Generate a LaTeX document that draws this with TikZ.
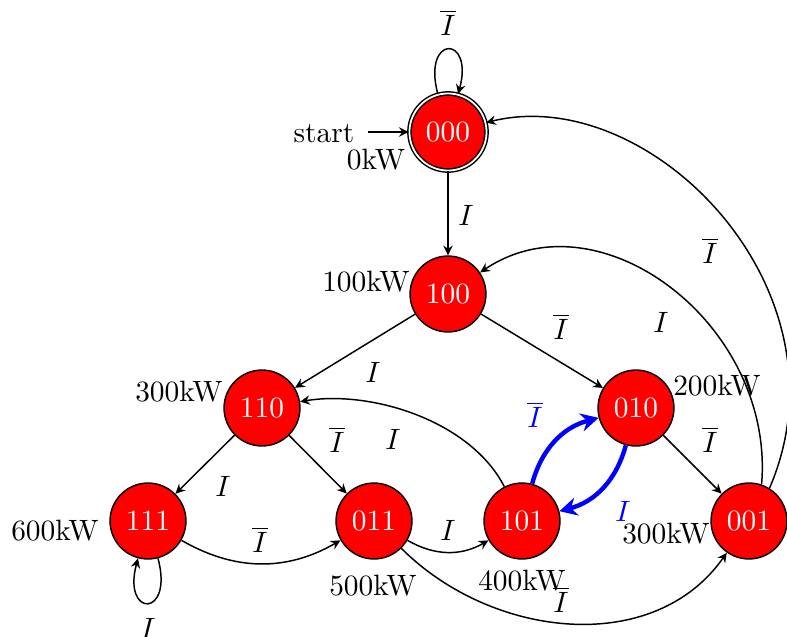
\documentclass[tikz,border=0pt]{standalone}
\usetikzlibrary{arrows.meta}
\begin{document}
\begin{tikzpicture}[x=0.34pt,y=0.34pt,
  st/.style={circle,draw=black,line width=0.5pt,fill=red,text=white,minimum size=25.8pt,inner sep=0pt},
  acc/.style={st,double,double distance=0.6pt,minimum size=26.2pt},
  lbl/.style={inner sep=0pt},
  bluelbl/.style={lbl,text=blue},
  edge/.style={-{Stealth[length=3.3pt,width=3.2pt,inset=1.1pt]},line width=0.5pt},
  hot/.style={-{Stealth[length=6pt,width=6.2pt,inset=2pt]},line width=1.5pt,blue}]
\useasboundingbox (0,0) rectangle (787,-637);

% states
\node[acc] (s000) at (448,-132) {000};
\node[st] (s100) at (448,-294) {100};
\node[st] (s110) at (262,-408) {110};
\node[st] (s010) at (636,-408) {010};
\node[st] (s111) at (148,-521) {111};
\node[st] (s011) at (374,-521) {011};
\node[st] (s101) at (522,-521) {101};
\node[st] (s001) at (749,-521) {001};

% power labels
\node[lbl] (k000) at (376,-160) {0kW};
\node[lbl] (k100) at (366,-282) {100kW};
\node[lbl] (k110) at (179,-392) {300kW};
\node[lbl] (k010) at (717,-386) {200kW};
\node[lbl] (k111) at (55,-531) {600kW};
\node[lbl] (k011) at (373,-586) {500kW};
\node[lbl] (k101) at (522,-581) {400kW};
\node[lbl] (k001) at (666,-534) {300kW};

% initial arrow
\node[lbl] (start) at (324,-134) {start};
\coordinate (st0) at (368,-132);
\draw[edge] (st0) -- (s000.west);

% loops
\draw[edge] (s000) to[out=105,in=75,looseness=1,min distance=21pt] (s000);
\node[lbl] (l000) at (448,-23) {$\overline{I}$};
\draw[edge] (s111) to[out=285,in=255,looseness=1,min distance=21pt] (s111);
\node[lbl] (l111) at (148,-628) {$I$};

% straight edges
\draw[edge] (s000) -- (s100);
\node[lbl] (e1) at (466,-215) {$I$};
\draw[edge] (s100) -- (s110);
\node[lbl] (e2) at (373,-372) {$I$};
\draw[edge] (s100) -- (s010);
\node[lbl] (e3) at (561,-327) {$\overline{I}$};
\draw[edge] (s110) -- (s111);
\node[lbl] (e4) at (223,-486) {$I$};
\draw[edge] (s110) -- (s011);
\node[lbl] (e5) at (337,-440) {$\overline{I}$};
\draw[edge] (s010) -- (s001);
\node[lbl] (e6) at (710,-440) {$\overline{I}$};

% bent edges
\draw[edge] (s111) to[bend right=30] (s011);
\node[lbl] (e7) at (260,-540) {$\overline{I}$};
\draw[edge] (s011) to[bend right=30] (s101);
\node[lbl] (e8) at (448,-530) {$I$};
\draw[edge] (s011) to[out=-45,in=-125] (s001);
\node[lbl] (e9) at (561,-600) {$\overline{I}$};
\draw[edge] (s101) .. controls (470,-420) and (370,-390) .. (s110);
\node[lbl] (e10) at (393,-439) {$I$};
\draw[edge] (s001.71) .. controls (775,-325) and (600,-192) .. (s100);
\node[lbl] (e11) at (661,-322) {$I$};
\draw[edge] (s001.58) .. controls (855,-290) and (650,-82) .. (s000);
\node[lbl] (e12) at (710,-251) {$\overline{I}$};

% highlighted edges
\draw[hot] (s101) to[bend left=30] (s010);
\node[bluelbl] (b1) at (535,-415) {$\overline{I}$};
\draw[hot] (s010) to[bend left=30] (s101);
\node[bluelbl] (b2) at (623,-511) {$I$};
\end{tikzpicture}
\end{document}
